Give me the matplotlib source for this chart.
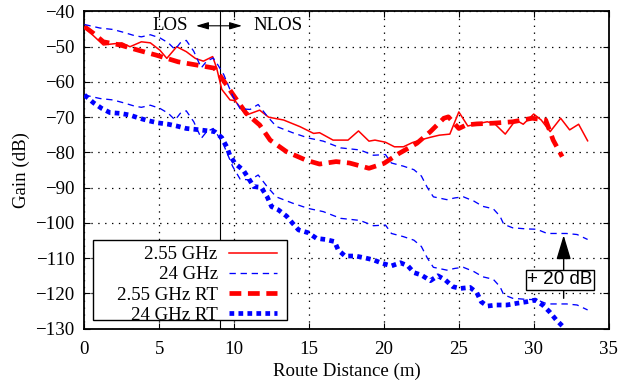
import numpy as np
import matplotlib
matplotlib.use('Agg')
import matplotlib.pyplot as plt
from matplotlib.patches import Rectangle

#%% data
x_255 = [0, 1.26, 2.5, 3.04, 3.8, 4.4, 5.04, 5.5, 6.16, 6.8, 7.4, 7.94, 8.56, 8.83,
         9.17, 9.72, 10.05, 10.8, 11.7, 12.3, 13.3, 14.4, 15.3, 15.7, 16.6, 17.6,
         18.3, 19.0, 19.4, 20.1, 20.7, 21.3, 21.9, 22.4, 23.1, 23.7, 24.4, 25.0,
         25.6, 26.2, 26.9, 27.4, 28.1, 28.8, 29.3, 30.0, 30.5, 31.1, 31.8, 32.4,
         33.0, 33.6]
g_255 = [-44.5, -49.5, -48.9, -50, -48.6, -48.9, -51, -53.3, -50, -51.4, -53.3,
         -54.1, -52.8, -56.1, -62.1, -65.1, -65.3, -69.4, -68, -70, -70.8, -72.7,
         -74.6, -74.4, -76.5, -76.5, -73.9, -76.8, -76.5, -77.1, -78.4, -78.4,
         -77.2, -76.5, -75.7, -75.1, -74.8, -68.5, -72.5, -71.9, -71.3, -71.9,
         -74.8, -70.8, -72, -69.1, -70.8, -74.1, -70.3, -73.6, -72, -76.7]

x_255_rt = [0, 0.6, 1.26, 2.37, 3.6, 4.8, 6.27, 7.5, 8.7, 9.27, 9.94, 10.8, 11.7,
            12.4, 13.5, 14.8, 15.7, 16.8, 17.7, 19.0, 20.0, 21.0, 22.2, 23.1, 24.0,
            24.3, 25.0, 25.5, 26.2, 27.3, 28.6, 29.9, 30.8, 31.3, 31.9]
g_255_rt = [-44.3, -46.2, -48.6, -49.5, -51, -52.4, -54.3, -55.2, -56.1, -59.5,
            -63.7, -68.9, -72.2, -76.5, -79.8, -82.2, -83.3, -82.6, -83.0, -84.5,
            -83.1, -80.3, -77.4, -74.1, -70.3, -69.9, -73.2, -72.2, -71.9, -71.7,
            -71.3, -70.3, -70.8, -76.5, -81.2]

x_24 = [0, 1.04, 1.9, 2.6, 3.3, 3.8, 4.4, 5.04, 5.6, 6.05, 6.4, 6.8, 7.3, 7.8,
        8.16, 8.6, 8.9, 9.3, 9.9, 10.4, 11.06, 11.6, 12.2, 12.8, 13.9, 14.95,
        15.95, 17.1, 18.4, 19.3, 20.1, 20.5, 21.3, 22.0, 22.5, 22.9, 23.3, 24.2,
        24.75, 25.3, 26.0, 26.6, 27.3, 27.75, 28.0, 28.6, 29.5, 30.2, 30.9, 32.2,
        32.9, 33.6]
g_24 = [-63.7, -64.7, -65.1, -65.9, -66.8, -67.2, -66.6, -67.5, -68.9, -70.8,
        -68.9, -68.2, -71.3, -76, -74.1, -73.2, -75.1, -77.9, -84, -87.6, -87.8,
        -86.4, -89.7, -92.6, -94.4, -95.9, -96.8, -98.7, -99.3, -100.8, -100.6,
        -103, -103.9, -104.9, -106.7, -110, -112.6, -113.4, -112.9, -112.6, -113.8,
        -115.3, -116, -118.1, -120.4, -121.4, -121.7, -121.8, -123, -123, -123.3,
        -124.7]

x_24_rt = [0, 0.6, 1.15, 1.7, 2.37, 3.04, 3.6, 4.27, 4.9, 5.6, 6.16, 6.8, 7.5, 8.1,
           8.7, 9.17, 9.5, 9.7, 10.05, 10.6, 10.95, 11.3, 11.8, 12.2, 12.5, 12.95,
           13.5, 13.9, 14.3, 14.95, 15.5, 16.1, 16.7, 16.95, 17.4, 18.1, 18.7, 19.3,
           19.9, 20.5, 21.1, 21.6, 22.0, 22.5, 23.1, 23.6, 24.1, 24.6, 25.1, 25.75,
           26.2, 26.5, 26.9, 27.5, 28.2, 28.9, 29.5, 30.1, 30.6, 31.05, 31.5, 31.9]
g_24_rt = [-63.7, -65.9, -67.5, -68.7, -68.9, -69.4, -70.2, -71, -71.6, -72, -72.5,
           -73.2, -73.5, -73.8, -74.1, -75.8, -78.4, -80.7, -83.1, -85, -87.3, -89.7,
           -89.9, -92.6, -95.4, -96.3, -98.1, -100.1, -102, -102.8, -104.4, -104.7,
           -105.3, -107.7, -109.4, -109.4, -109.9, -110.5, -111.5, -112.2, -111.3,
           -112.2, -114.1, -114.8, -116.4, -115, -116.2, -118.1, -118.6, -118.3,
           -119.8, -122.4, -123.6, -123.3, -123.3, -122.8, -122.4, -121.9, -123.3,
           -125.2, -127.5, -129.2]

shift_db = 20        # 24 GHz measurement shown again, offset by +20 dB
x_los = 9.07         # LOS / NLOS boundary
x_ticks = [0, 5, 10, 15, 20, 25, 30, 35]
y_ticks = [-130, -120, -110, -100, -90, -80, -70, -60, -50, -40]

#%% plot
plt.rcParams['font.family'] = ['Liberation Serif', 'DejaVu Serif']
plt.rcParams['axes.unicode_minus'] = True
fs = 13.6

fig = plt.figure(figsize=(6.21, 3.83), dpi=100)
ax = fig.add_axes([0.136, 0.142, 0.844, 0.828])

ax.plot(x_255, g_255, color='#ff0000', lw=1.1, label='2.55 GHz', zorder=4)
ax.plot(x_24, g_24, color='#0000ff', lw=0.95, dashes=(4.8, 3.6), label='24 GHz', zorder=4)
ax.plot(x_255_rt, g_255_rt, color='#ff0000', lw=3.4, dashes=(2.5, 1.4),
        label='2.55 GHz RT', zorder=3)
ax.plot(x_24_rt, g_24_rt, color='#0000ff', lw=3.4, dashes=(1, 0.9),
        label='24 GHz RT', zorder=3)
ax.plot(x_24, np.array(g_24) + shift_db, color='#0000ff', lw=0.95, dashes=(4.8, 3.6),
        zorder=4)

ax.axvline(x_los, color='k', lw=0.8, zorder=2)

ax.set_xlim(0, 35)
ax.set_ylim(-130, -40)
ax.set_xticks(x_ticks)
ax.set_yticks(y_ticks)
ax.grid(True, color='k', lw=0.9, linestyle=(0, (1.1, 4.4)))
ax.tick_params(direction='in', top=True, right=True, length=4, labelsize=fs)
ax.tick_params(axis='y', pad=7)
ax.tick_params(axis='x', pad=9)
for s in ax.spines.values():
    s.set_linewidth(1.3)

ax.set_xlabel('Route Distance (m)', fontsize=fs, labelpad=3)
ax.set_ylabel('Gain (dB)', fontsize=fs, labelpad=4)

# LOS / NLOS label
ax.text(5.7, -44.1, 'LOS', fontsize=fs, ha='center', va='center')
ax.text(12.9, -44.1, 'NLOS', fontsize=fs, ha='center', va='center')
arr = dict(arrowstyle='-|>,head_length=0.75,head_width=0.22', color='k', lw=0.8,
           mutation_scale=10, shrinkA=0, shrinkB=0)
ax.annotate('', xy=(7.45, -44.06), xytext=(x_los, -44.06), arrowprops=arr)
ax.annotate('', xy=(10.52, -44.06), xytext=(x_los, -44.06), arrowprops=arr)

# +20 dB arrow
ax.annotate('', xy=(32.0, -103.5), xytext=(32.0, -121.4),
            arrowprops=dict(arrowstyle='-|>,head_length=1.5,head_width=0.45',
                            color='k', lw=1.0, mutation_scale=10,
                            shrinkA=0, shrinkB=0), zorder=5)
ax.text(31.74, -116.2, '+ 20 dB', fontsize=fs, ha='center', va='center',
        family=['Liberation Sans', 'DejaVu Sans'], zorder=6,
        bbox=dict(boxstyle='square,pad=0.06', fc='white', ec='k', lw=1.0))

# legend: gnuplot-like, labels right aligned, frame drawn separately
ax.add_patch(Rectangle((0.0168, 0.027), 0.369, 0.254, transform=ax.transAxes,
                       fc='white', ec='k', lw=1.0, zorder=9))
leg = ax.legend(loc='lower right', bbox_to_anchor=(0.3667, 0.0158), borderaxespad=0,
                markerfirst=False, fontsize=fs, handlelength=2.5, labelspacing=0.15,
                borderpad=0, handletextpad=0.62, frameon=False)
leg.set_zorder(10)

fig.savefig('out.png', dpi=100)
